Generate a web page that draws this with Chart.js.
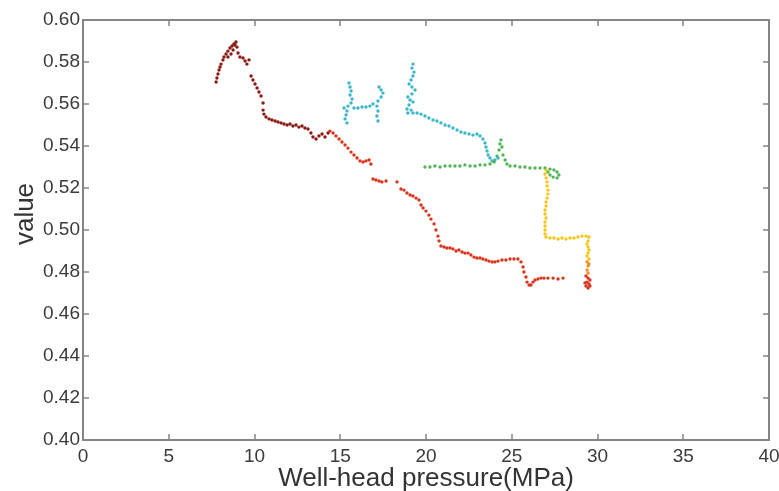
<!DOCTYPE html>
<html>
<head>
<meta charset="utf-8">
<script src="https://cdn.jsdelivr.net/npm/chart.js@4/dist/chart.umd.min.js"></script>
<style>
  html, body { margin: 0; padding: 0; background: #fff; }
  canvas { display: block; }
</style>
</head>
<body>
<canvas id="chart" width="779" height="491"></canvas>
<script>
// tick labels
const xTickValues = [0, 5, 10, 15, 20, 25, 30, 35, 40];
const yTickValues = [0.40, 0.42, 0.44, 0.46, 0.48, 0.50, 0.52, 0.54, 0.56, 0.58, 0.60];

// dark red segment (left hump)
const darkRedX = [7.76, 7.81, 7.87, 7.93, 7.99, 8.05, 8.16, 8.22, 8.34, 8.45, 8.57, 8.69, 8.80, 8.92, 8.86, 8.98, 8.75, 8.63, 8.45,
  9.04, 9.15, 9.33, 9.45, 9.56, 9.68, 9.80, 9.91, 10.03, 10.15, 10.26, 10.38, 10.50, 10.50, 10.55, 10.67, 10.85, 11.02, 11.20,
  11.37, 11.55, 11.72, 11.90, 12.07, 12.24, 12.42, 12.59, 12.77, 12.94, 13.12, 13.29, 13.41, 13.59, 13.76, 13.94, 14.11, 14.29];
const darkRedY = [0.5705, 0.5724, 0.5743, 0.5762, 0.5776, 0.5790, 0.5810, 0.5824, 0.5838, 0.5852, 0.5867, 0.5876, 0.5886, 0.5895, 0.5881, 0.5871, 0.5857, 0.5838, 0.5824,
  0.5843, 0.5824, 0.5819, 0.5805, 0.5790, 0.5810, 0.5733, 0.5714, 0.5695, 0.5676, 0.5657, 0.5638, 0.5605, 0.5571, 0.5552, 0.5538, 0.5529, 0.5524, 0.5519,
  0.5514, 0.5510, 0.5505, 0.5500, 0.5505, 0.5495, 0.5500, 0.5490, 0.5495, 0.5486, 0.5481, 0.5462, 0.5443, 0.5433, 0.5448, 0.5457, 0.5443, 0.5462];

// red segment (main descent)
const redX = [14.40, 14.58, 14.75, 14.93, 15.10, 15.28, 15.45, 15.63, 15.80, 15.98, 16.15, 16.33, 16.50, 16.68, 16.79, 16.91, 17.08, 17.26,
  17.43, 17.67, 18.31, 18.54, 18.72, 18.89, 19.07, 19.24, 19.42, 19.59, 19.71, 19.83, 20.00, 20.17, 20.29, 20.47, 20.58, 20.70, 20.76,
  20.87, 21.05, 21.22, 21.40, 21.57, 21.75, 21.92, 22.10, 22.27, 22.45, 22.62, 22.80, 22.97, 23.15, 23.32, 23.50, 23.67, 23.85, 24.02,
  24.20, 24.43, 24.66, 24.90, 25.13, 25.36, 25.54, 25.66, 25.71, 25.83, 25.89, 26.01, 26.12, 26.24, 26.36, 26.53, 26.71, 26.88, 27.11,
  27.41, 27.70, 27.99, 29.33, 29.45, 29.56, 29.39, 29.50, 29.33, 29.56, 29.45, 29.27];
const redY = [0.5471, 0.5462, 0.5448, 0.5433, 0.5419, 0.5405, 0.5390, 0.5371, 0.5357, 0.5343, 0.5329, 0.5324, 0.5329, 0.5333, 0.5314, 0.5243, 0.5238, 0.5233,
  0.5229, 0.5233, 0.5229, 0.5195, 0.5190, 0.5176, 0.5167, 0.5162, 0.5152, 0.5143, 0.5119, 0.5105, 0.5090, 0.5071, 0.5052, 0.5029, 0.5000, 0.4971, 0.4948,
  0.4924, 0.4919, 0.4914, 0.4914, 0.4910, 0.4900, 0.4905, 0.4895, 0.4890, 0.4890, 0.4881, 0.4871, 0.4867, 0.4867, 0.4862, 0.4857, 0.4852, 0.4848, 0.4848,
  0.4852, 0.4857, 0.4857, 0.4862, 0.4862, 0.4862, 0.4848, 0.4824, 0.4800, 0.4776, 0.4752, 0.4738, 0.4738, 0.4752, 0.4762, 0.4767, 0.4771, 0.4771, 0.4771,
  0.4771, 0.4767, 0.4771, 0.4781, 0.4771, 0.4762, 0.4752, 0.4743, 0.4733, 0.4733, 0.4724, 0.4748];

// orange (bottom of right column)
const orangeX = [29.39, 29.45, 29.39, 29.45, 29.50];
const orangeY = [0.4848, 0.4829, 0.4810, 0.4795, 0.4838];

// yellow (two columns and the step between)
const yellowX = [27.00, 26.94, 27.00, 27.06, 27.06, 27.11, 27.11, 27.06, 27.00, 27.00, 26.94, 26.94, 27.00, 26.94, 26.94, 26.94, 26.94, 27.00,
  27.23, 27.46, 27.70, 27.93, 28.16, 28.40, 28.63, 28.86, 29.10, 29.33, 29.50, 29.45, 29.39, 29.45, 29.50, 29.45, 29.39, 29.50];
const yellowY = [0.5286, 0.5267, 0.5248, 0.5229, 0.5210, 0.5190, 0.5171, 0.5152, 0.5133, 0.5114, 0.5095, 0.5076, 0.5057, 0.5038, 0.5019, 0.5000, 0.4981, 0.4967,
  0.4962, 0.4962, 0.4957, 0.4962, 0.4957, 0.4962, 0.4962, 0.4967, 0.4971, 0.4971, 0.4967, 0.4948, 0.4933, 0.4919, 0.4905, 0.4890, 0.4876, 0.4862];

// green (horizontal band around 0.53)
const greenX = [19.94, 20.23, 20.52, 20.82, 21.11, 21.40, 21.69, 21.98, 22.27, 22.57, 22.86, 23.15, 23.44, 23.73, 23.97, 24.14, 24.26, 24.31,
  24.37, 24.43, 24.49, 24.61, 24.72, 24.90, 25.19, 25.48, 25.77, 26.06, 26.36, 26.65, 26.94, 27.23, 27.46, 27.64, 27.75, 27.64, 27.41, 27.23, 27.11];
const greenY = [0.5300, 0.5300, 0.5305, 0.5300, 0.5305, 0.5305, 0.5305, 0.5305, 0.5310, 0.5305, 0.5305, 0.5310, 0.5310, 0.5314, 0.5324, 0.5352, 0.5381, 0.5410,
  0.5429, 0.5395, 0.5357, 0.5333, 0.5314, 0.5305, 0.5305, 0.5300, 0.5300, 0.5295, 0.5295, 0.5295, 0.5295, 0.5290, 0.5286, 0.5276, 0.5262, 0.5248, 0.5252, 0.5262, 0.5276];

// cyan (three upper clusters and the trail)
const cyanX = [15.51, 15.57, 15.63, 15.57, 15.69, 15.63, 15.45, 15.22, 15.39, 15.34, 15.28, 15.39, 15.80, 16.03, 16.27, 16.50, 16.73, 16.91,
  17.26, 17.38, 17.49, 17.38, 17.20, 17.14, 17.20, 17.14, 17.20,
  19.24, 19.18, 19.30, 19.24, 19.13, 19.01, 19.18, 19.36, 19.18, 18.94, 19.07, 19.24, 19.01, 18.89, 18.94, 19.13,
  19.24, 19.48, 19.71, 19.94, 20.17, 20.41, 20.64, 20.87, 21.11, 21.34, 21.57, 21.81, 22.04, 22.27, 22.51, 22.74, 22.97, 23.15,
  23.32, 23.44, 23.50, 23.56, 23.62, 23.73, 23.85, 24.02, 24.20];
const cyanY = [0.5700, 0.5681, 0.5662, 0.5643, 0.5624, 0.5605, 0.5590, 0.5581, 0.5567, 0.5548, 0.5529, 0.5510, 0.5581, 0.5581, 0.5586, 0.5586, 0.5590, 0.5600,
  0.5681, 0.5667, 0.5652, 0.5633, 0.5614, 0.5590, 0.5567, 0.5543, 0.5519,
  0.5790, 0.5771, 0.5752, 0.5733, 0.5714, 0.5695, 0.5681, 0.5667, 0.5648, 0.5633, 0.5619, 0.5610, 0.5595, 0.5576, 0.5557, 0.5571,
  0.5557, 0.5557, 0.5552, 0.5543, 0.5533, 0.5524, 0.5519, 0.5510, 0.5500, 0.5495, 0.5486, 0.5476, 0.5467, 0.5462, 0.5457, 0.5452, 0.5457, 0.5448,
  0.5433, 0.5414, 0.5395, 0.5376, 0.5357, 0.5343, 0.5329, 0.5333, 0.5343];

const yTitle = 'value';

function pts(xs, ys) {
  return xs.map((x, i) => ({ x: x, y: ys[i] }));
}

function series(label, xs, ys, color) {
  return {
    label: label,
    data: pts(xs, ys),
    backgroundColor: color,
    borderColor: color,
    borderWidth: 0,
    pointRadius: 1.7,
    pointHoverRadius: 1.7
  };
}

const font = '"Liberation Sans", Arial, Helvetica, sans-serif';

// frame with inward ticks on all four sides (matlab style), plus the y title
const frameTicks = {
  id: 'frameTicks',
  afterDraw(chart) {
    const { ctx, chartArea: a, scales: { x, y } } = chart;
    ctx.save();
    ctx.strokeStyle = '#858585';
    ctx.lineWidth = 2;
    ctx.strokeRect(a.left, a.top, a.right - a.left, a.bottom - a.top);
    ctx.lineWidth = 1.5;
    ctx.beginPath();
    x.ticks.forEach(t => {
      const px = Math.round(x.getPixelForValue(t.value));
      ctx.moveTo(px, a.bottom); ctx.lineTo(px, a.bottom - 6);
      ctx.moveTo(px, a.top); ctx.lineTo(px, a.top + 6);
    });
    y.ticks.forEach(t => {
      const py = Math.round(y.getPixelForValue(t.value));
      ctx.moveTo(a.left, py); ctx.lineTo(a.left + 6, py);
      ctx.moveTo(a.right, py); ctx.lineTo(a.right - 6, py);
    });
    ctx.stroke();

    // y title sits a bit above the middle in the original
    ctx.translate(26, 214);
    ctx.rotate(-Math.PI / 2);
    ctx.fillStyle = '#333';
    ctx.font = '26px ' + font;
    ctx.textAlign = 'center';
    ctx.textBaseline = 'middle';
    ctx.fillText(yTitle, 0, 0);
    ctx.restore();
  }
};

new Chart(document.getElementById('chart'), {
  type: 'scatter',
  data: {
    datasets: [
      series('dark red', darkRedX, darkRedY, '#8a1a12'),
      series('red', redX, redY, '#d8341d'),
      series('orange', orangeX, orangeY, '#f08e1c'),
      series('yellow', yellowX, yellowY, '#f6c517'),
      series('green', greenX, greenY, '#55b35a'),
      series('cyan', cyanX, cyanY, '#3cb6ca')
    ]
  },
  options: {
    responsive: false,
    animation: false,
    devicePixelRatio: 1,
    layout: { padding: { top: 20, right: 10, left: 0, bottom: 0 } },
    plugins: {
      legend: { display: false },
      tooltip: { enabled: false }
    },
    scales: {
      x: {
        type: 'linear',
        min: 0,
        max: 40,
        afterBuildTicks(scale) { scale.ticks = xTickValues.map(v => ({ value: v })); },
        afterFit(scale) {
          scale.height = 51;
          scale.paddingRight = 0; // let "40" run into the right margin like the original
          scale.paddingLeft = 0;
        },
        grid: { display: false, drawTicks: false },
        border: { display: false },
        ticks: {
          padding: 5,
          maxRotation: 0,
          color: '#3a3a3a',
          font: { family: font, size: 19 }
        },
        title: {
          display: true,
          text: 'Well-head pressure(MPa)',
          color: '#333',
          padding: { top: 0, bottom: 0 },
          font: { family: font, size: 26, lineHeight: 0.9 }
        }
      },
      y: {
        type: 'linear',
        min: 0.40,
        max: 0.60,
        afterBuildTicks(scale) { scale.ticks = yTickValues.map(v => ({ value: v })); },
        afterFit(scale) { scale.width = 83; },
        grid: { display: false, drawTicks: false },
        border: { display: false },
        ticks: {
          padding: 3,
          color: '#3a3a3a',
          font: { family: font, size: 19 },
          callback: v => v.toFixed(2)
        },
        title: { display: false }
      }
    }
  },
  plugins: [frameTicks]
});
</script>
</body>
</html>
